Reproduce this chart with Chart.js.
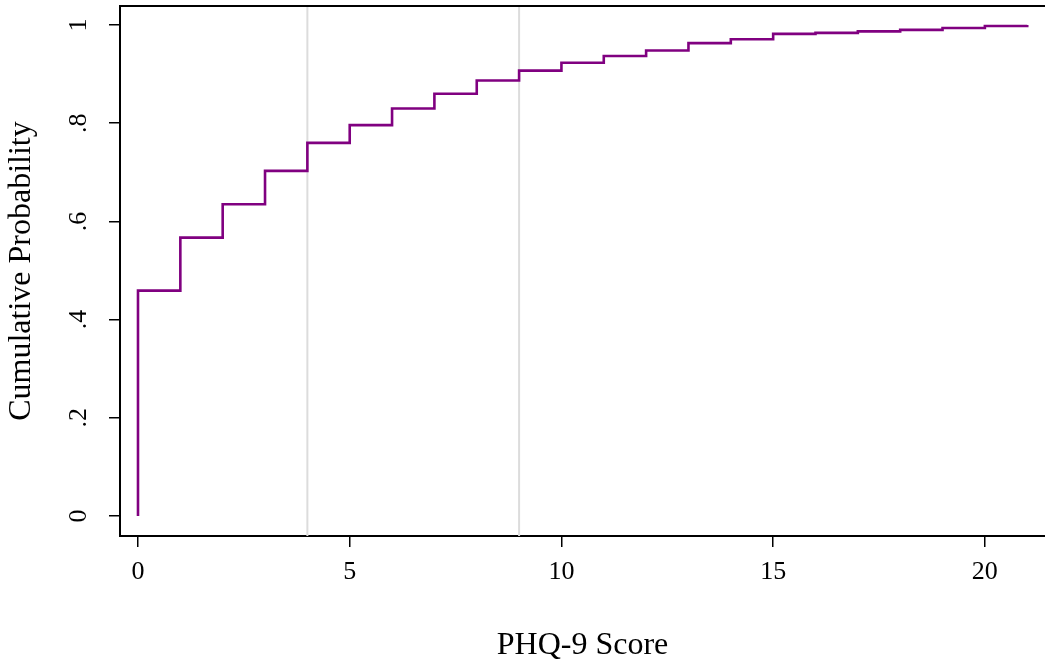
<!DOCTYPE html>
<html>
<head>
<meta charset="utf-8">
<script src="https://cdn.jsdelivr.net/npm/chart.js@4/dist/chart.umd.min.js"></script>
<style>
  html, body { margin: 0; padding: 0; background: #fff; }
  #wrap { width: 1045px; height: 666px; }
</style>
</head>
<body>
<div id="wrap"><canvas id="cdf"></canvas></div>
<script>
    // PHQ-9 score and cumulative probability (first point is the start at 0)
    const scores = [0, 0, 1, 2, 3, 4, 5, 6, 7, 8, 9, 10, 11, 12, 13, 14, 15, 16, 17, 18, 19, 20, 21];
    const cumProb = [0, 0.459, 0.567, 0.635, 0.703, 0.760, 0.796, 0.830, 0.860, 0.887, 0.907,
                     0.923, 0.937, 0.948, 0.963, 0.971, 0.982, 0.984, 0.987, 0.990, 0.994, 0.998, 1.000];

    const refLines = [4, 9];
    const xTicks = [0, 5, 10, 15, 20];
    const yTicks = [0, 0.2, 0.4, 0.6, 0.8, 1];
    const yTickLabels = ["0", ".2", ".4", ".6", ".8", "1"];

    const fontFamily = "'Liberation Serif', 'DejaVu Serif', serif";

    const points = scores.map((s, i) => ({ x: s, y: cumProb[i] }));

    // grey cut-off lines and the top frame line
    const framePlugin = {
        id: "frame",
        beforeDatasetsDraw(chart) {
            const { ctx, chartArea, scales } = chart;
            ctx.save();
            ctx.strokeStyle = "#dcdcdc";
            ctx.lineWidth = 2;
            refLines.forEach(v => {
                const px = scales.x.getPixelForValue(v);
                ctx.beginPath();
                ctx.moveTo(px, chartArea.top);
                ctx.lineTo(px, chartArea.bottom);
                ctx.stroke();
            });
            ctx.restore();
        },
        afterDraw(chart) {
            const { ctx, chartArea } = chart;
            ctx.save();
            ctx.strokeStyle = "#000";
            ctx.lineWidth = 2;
            ctx.beginPath();
            ctx.moveTo(chartArea.left - 1, chartArea.top);
            ctx.lineTo(chartArea.right, chartArea.top);
            ctx.stroke();
            ctx.restore();
        }
    };

    new Chart(document.getElementById("cdf"), {
        type: "line",
        data: {
            datasets: [{
                label: "Cumulative Probability",
                data: points,
                stepped: "before",
                borderColor: "#800080",
                borderWidth: 2.6,
                borderJoinStyle: "miter",
                pointRadius: 0,
                fill: false
            }]
        },
        options: {
            responsive: true,
            maintainAspectRatio: false,
            animation: false,
            layout: { padding: { top: 6, right: 0, bottom: 0, left: 0 } },
            plugins: {
                legend: { display: false },
                tooltip: { enabled: false }
            },
            scales: {
                x: {
                    type: "linear",
                    min: -0.425,
                    max: 21.42,
                    afterBuildTicks: s => { s.ticks = xTicks.map(v => ({ value: v })); },
                    afterFit: s => { s.height = 130; s.paddingLeft = 0; s.paddingRight = 0; },
                    grid: { drawOnChartArea: false, drawTicks: true, tickLength: 11, color: "#000", lineWidth: 1.5 },
                    border: { color: "#000", width: 2 },
                    ticks: {
                        color: "#000",
                        padding: 10,
                        maxRotation: 0,
                        font: { family: fontFamily, size: 26 }
                    },
                    title: {
                        display: true,
                        text: "PHQ-9 Score",
                        color: "#000",
                        font: { family: fontFamily, size: 32, lineHeight: 1 },
                        padding: { top: 0, bottom: 4 }
                    }
                },
                y: {
                    type: "linear",
                    min: -0.0407,
                    max: 1.0387,
                    afterBuildTicks: s => { s.ticks = yTicks.map(v => ({ value: v })); },
                    afterFit: s => { s.width = 120; s.paddingTop = 0; s.paddingBottom = 0; },
                    grid: { drawOnChartArea: false, drawTicks: true, tickLength: 11, color: "#000", lineWidth: 1.5 },
                    border: { color: "#000", width: 2 },
                    ticks: {
                        color: "#000",
                        padding: 20,
                        minRotation: 90,
                        maxRotation: 90,
                        crossAlign: "center",
                        font: { family: fontFamily, size: 26 },
                        callback: (v, i) => yTickLabels[i]
                    },
                    title: {
                        display: true,
                        text: "Cumulative Probability",
                        color: "#000",
                        font: { family: fontFamily, size: 32, lineHeight: 1 },
                        padding: { top: 6, bottom: 0 }
                    }
                }
            }
        },
        plugins: [framePlugin]
    });
</script>
</body>
</html>
